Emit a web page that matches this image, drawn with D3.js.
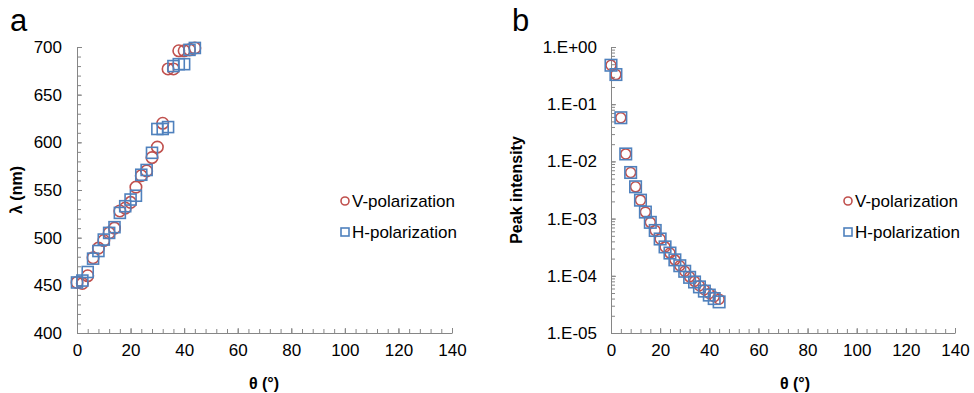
<!DOCTYPE html>
<html lang="en">
<head>
  <meta charset="UTF-8">
  <title>Angle dependence</title>
  <script src="https://d3js.org/d3.v7.min.js"></script>
  <style>
    body { margin: 0; background: #fff; }
    text { font-family: "Liberation Sans", Arial, sans-serif; fill: #000; }
    .tick text { font-size: 17px; }
    .axis path, .axis line { stroke: #868686; stroke-width: 1; }
    .title { font-size: 16px; font-weight: bold; }
    .legend { font-size: 17px; }
    .panel { font-size: 31px; }
  </style>
</head>
<body>
  <svg width="974" height="393"></svg>

  <script>
    // angle (deg), both panels share it
    const theta = [0, 2, 4, 6, 8, 10, 12, 14, 16, 18, 20, 22, 24, 26, 28, 30, 32, 34, 36, 38, 40, 42, 44];

    // panel a: peak wavelength (nm)
    const lambdaV = [453, 452, 460, 479, 489, 497, 505, 510, 528, 531, 537, 553, 565, 570, 584, 595, 620, 677, 677, 696, 696, 697, 699];
    const lambdaH = [453, 455, 464, 478, 486, 498, 505, 511, 526, 533, 540, 544, 566, 571, 589, 614, 614, 616, 680, 682, 682, 697, 699];

    // panel b: peak intensity
    const intensV = [0.48, 0.33, 0.058, 0.0135, 0.0064, 0.0036, 0.0021, 0.0013, 8.6e-4, 6.2e-4, 4.4e-4, 3.2e-4, 2.5e-4, 1.9e-4, 1.5e-4, 1.2e-4, 9.6e-5, 8.0e-5, 6.7e-5, 5.7e-5, 4.9e-5, 4.3e-5, 3.9e-5];
    const intensH = [0.48, 0.33, 0.058, 0.0135, 0.0064, 0.0036, 0.0021, 0.0013, 8.6e-4, 6.2e-4, 4.4e-4, 3.2e-4, 2.5e-4, 1.9e-4, 1.5e-4, 1.2e-4, 9.4e-5, 7.8e-5, 6.4e-5, 5.4e-5, 4.6e-5, 4.0e-5, 3.5e-5];

    const xTicks = [0, 20, 40, 60, 80, 100, 120, 140];
    const yTicksA = [400, 450, 500, 550, 600, 650, 700];
    const yTicksB = [1, 1e-1, 1e-2, 1e-3, 1e-4, 1e-5];
    const seriesNames = ["V-polarization", "H-polarization"];

    const red = "#C0504D", blue = "#4F81BD";
    const svg = d3.select("svg");

    function drawMarkers(g, x, y, xs, ys, shape, color, size) {
      const pts = xs.map((t, i) => [x(t), y(ys[i])]);
      if (shape === "circle") {
        g.selectAll(null).data(pts).enter().append("circle")
          .attr("cx", d => d[0]).attr("cy", d => d[1]).attr("r", size / 2)
          .attr("fill", "none").attr("stroke", color).attr("stroke-width", 1.6);
      } else {
        g.selectAll(null).data(pts).enter().append("rect")
          .attr("x", d => d[0] - size / 2).attr("y", d => d[1] - size / 2)
          .attr("width", size).attr("height", size)
          .attr("fill", "none").attr("stroke", color).attr("stroke-width", 1.6);
      }
    }

    function drawLegend(lx, ly) {
      const lg = svg.append("g");
      lg.append("circle").attr("cx", lx).attr("cy", ly).attr("r", 4)
        .attr("fill", "none").attr("stroke", red).attr("stroke-width", 1.6);
      lg.append("rect").attr("x", lx - 4).attr("y", ly + 31 - 4).attr("width", 8).attr("height", 8)
        .attr("fill", "none").attr("stroke", blue).attr("stroke-width", 1.6);
      seriesNames.forEach((s, i) => {
        lg.append("text").attr("class", "legend")
          .attr("x", lx + 7).attr("y", ly + i * 31 + 6).text(s);
      });
    }

    function xAxes(x, yPos) {
      svg.append("g").attr("class", "axis").attr("transform", `translate(0,${yPos})`)
        .call(d3.axisBottom(x).tickValues(d3.range(0, 141, 4)).tickSize(-4).tickFormat(""))
        .call(g => g.select(".domain").remove());
      svg.append("g").attr("class", "axis").attr("transform", `translate(0,${yPos})`)
        .call(d3.axisBottom(x).tickValues(xTicks).tickSizeInner(-5).tickSizeOuter(0).tickPadding(11));
    }

    // ---- panel a ----
    const xa = d3.scaleLinear().domain([0, 140]).range([77, 452]);
    const ya = d3.scaleLinear().domain([400, 700]).range([333, 47]);

    svg.append("g").attr("class", "axis").attr("transform", "translate(77,0)")
      .call(d3.axisLeft(ya).tickValues(d3.range(400, 701, 10)).tickSize(-4).tickFormat(""))
      .call(g => g.select(".domain").remove());
    svg.append("g").attr("class", "axis").attr("transform", "translate(77,0)")
      .call(d3.axisLeft(ya).tickValues(yTicksA).tickSizeInner(-5).tickSizeOuter(0).tickPadding(15));
    xAxes(xa, 333);

    const ga = svg.append("g");
    drawMarkers(ga, xa, ya, theta, lambdaV, "circle", red, 11.5);
    drawMarkers(ga, xa, ya, theta, lambdaH, "square", blue, 11);
    drawLegend(345, 201);

    svg.append("text").attr("class", "title").attr("text-anchor", "middle")
      .attr("transform", "translate(22,190) rotate(-90)").text("λ (nm)");
    svg.append("text").attr("class", "title").attr("text-anchor", "middle")
      .attr("x", 264).attr("y", 389).text("θ (°)");
    svg.append("text").attr("class", "panel").attr("x", 10).attr("y", 31).text("a");

    // ---- panel b ----
    const xb = d3.scaleLinear().domain([0, 140]).range([611, 955]);
    const yb = d3.scaleLog().domain([1e-5, 1]).range([333, 47]);

    const minorLog = [];
    for (let e = -5; e < 0; e++) for (let m = 1; m < 10; m++) minorLog.push(m * Math.pow(10, e));
    svg.append("g").attr("class", "axis").attr("transform", "translate(611,0)")
      .call(d3.axisLeft(yb).tickValues(minorLog).tickSize(-4).tickFormat(""))
      .call(g => g.select(".domain").remove());
    svg.append("g").attr("class", "axis").attr("transform", "translate(611,0)")
      .call(d3.axisLeft(yb).tickValues(yTicksB).tickSizeInner(-5).tickSizeOuter(0).tickPadding(14)
        .tickFormat(d => {
          const e = Math.round(Math.log10(d));
          return "1.E" + (e < 0 ? "-" : "+") + String(Math.abs(e)).padStart(2, "0");
        }));
    xAxes(xb, 333);

    const gb = svg.append("g");
    drawMarkers(gb, xb, yb, theta, intensV, "circle", red, 10);
    drawMarkers(gb, xb, yb, theta, intensH, "square", blue, 11.5);
    drawLegend(848, 201);

    svg.append("text").attr("class", "title").attr("text-anchor", "middle")
      .attr("transform", "translate(522,190) rotate(-90)").text("Peak intensity");
    svg.append("text").attr("class", "title").attr("text-anchor", "middle")
      .attr("x", 795).attr("y", 389).text("θ (°)");
    svg.append("text").attr("class", "panel").attr("x", 512).attr("y", 31).text("b");
  </script>
</body>
</html>
